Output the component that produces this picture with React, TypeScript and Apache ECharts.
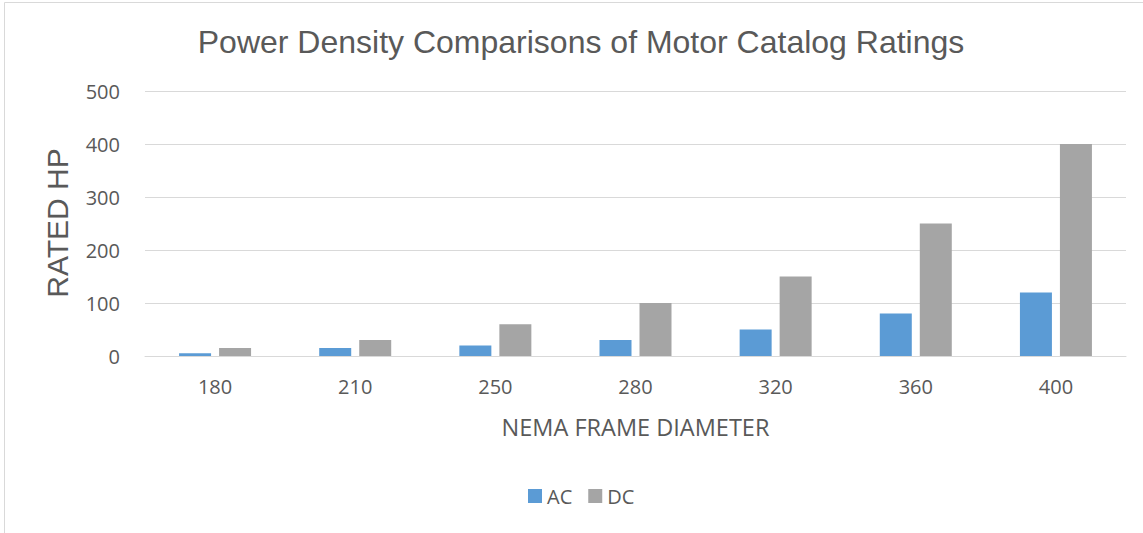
import React, { useEffect, useRef } from "react";
import * as echarts from "echarts";

const categories = ["180", "210", "250", "280", "320", "360", "400"];
const acValues = [5, 15, 20, 30, 50, 80, 120];
const dcValues = [15, 30, 60, 100, 150, 250, 400];
const titleText = "Power Density Comparisons of Motor Catalog Ratings";
const xName = "NEMA FRAME DIAMETER";
const yName = "RATED HP";

export default function App() {
  const ref = useRef<HTMLDivElement>(null);
  useEffect(() => {
    if (!ref.current) return;
    const chart = echarts.init(ref.current, undefined, { renderer: "svg" });
    const text = "#595959";
    chart.setOption({
      animation: false,
      backgroundColor: "#ffffff",
      graphic: [
        {
          type: "rect",
          shape: { x: 4.5, y: 2.5, width: 1300, height: 700 },
          style: { fill: "none", stroke: "#D9D9D9", lineWidth: 1 },
          silent: true,
        },
        {
          type: "text",
          x: 57,
          y: 223,
          rotation: Math.PI / 2,
          style: {
            text: yName,
            fill: text,
            font: "30px 'Liberation Sans', Arial, sans-serif",
            align: "center",
            verticalAlign: "middle",
          },
        },
      ],
      title: {
        text: titleText,
        left: 576,
        textAlign: "center",
        top: 21,
        textStyle: {
          color: text,
          fontSize: 32,
          fontWeight: "normal",
          fontFamily: "'Liberation Sans', Arial, sans-serif",
        },
      },
      legend: {
        top: 481,
        left: 523,
        itemWidth: 14,
        itemHeight: 14,
        itemGap: 16,
        icon: "rect",
        textStyle: { color: text, fontSize: 20, fontFamily: "'Open Sans', sans-serif" },
        data: ["AC", "DC"],
      },
      grid: { left: 145, right: 17, top: 91, bottom: 177, containLabel: false },
      xAxis: {
        type: "category",
        data: categories,
        name: xName,
        nameLocation: "middle",
        nameGap: 59,
        nameTextStyle: { color: text, fontSize: 23.5, fontFamily: "'Open Sans', sans-serif" },
        axisLine: { lineStyle: { color: "#D9D9D9", width: 1 } },
        axisTick: { show: false },
        axisLabel: { color: text, fontSize: 20, margin: 20, fontFamily: "'Open Sans', sans-serif" },
      },
      yAxis: {
        type: "value",
        min: 0,
        max: 500,
        interval: 100,
        axisLine: { show: false },
        axisTick: { show: false },
        splitLine: { lineStyle: { color: "#D9D9D9", width: 1 } },
        axisLabel: { color: text, fontSize: 20, margin: 25, fontFamily: "'Open Sans', sans-serif" },
      },
      series: [
        {
          name: "AC",
          type: "bar",
          data: acValues,
          barWidth: 32,
          barGap: "25%",
          itemStyle: { color: "#5B9BD5" },
        },
        {
          name: "DC",
          type: "bar",
          data: dcValues,
          barWidth: 32,
          itemStyle: { color: "#A5A5A5" },
        },
      ],
    });
    return () => chart.dispose();
  }, []);
  return (
    <div
      ref={ref}
      style={{ position: "fixed", left: 0, top: 0, width: 1143, height: 533 }}
    />
  );
}
